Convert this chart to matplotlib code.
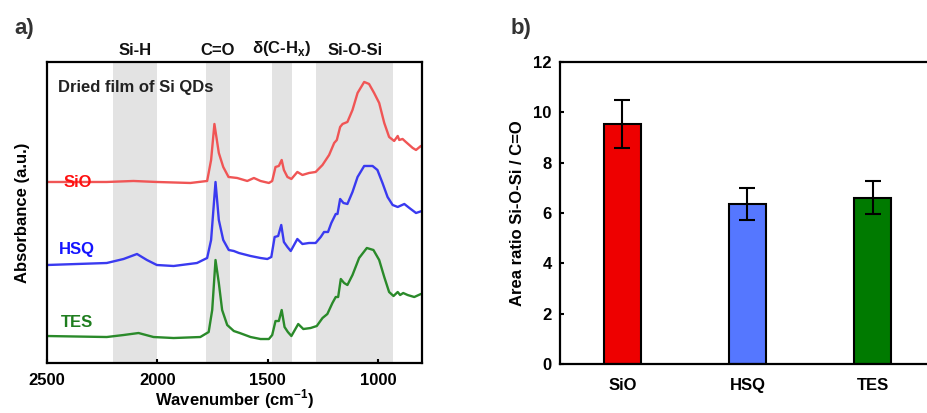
import matplotlib.pyplot as plt
import matplotlib.transforms as mtransforms

plt.rcParams['font.family'] = ['Liberation Sans', 'DejaVu Sans']
plt.rcParams['font.weight'] = 'bold'
plt.rcParams['mathtext.fontset'] = 'custom'
plt.rcParams['mathtext.bf'] = 'Liberation Sans:bold'
plt.rcParams['mathtext.rm'] = 'Liberation Sans:bold'

# ---- panel a) FTIR spectra (baseline-subtracted) ----
sio_wn = [2500, 2380, 2229, 2108, 2002, 1850, 1774, 1756, 1741, 1721, 1701, 1677,
          1638, 1592, 1562, 1532, 1494, 1479, 1464, 1449, 1436, 1426, 1410, 1392,
          1365, 1342, 1312, 1282, 1251, 1221, 1198, 1186, 1171, 1160, 1138, 1115,
          1092, 1062, 1040, 1017, 994, 971, 949, 926, 910, 903, 888, 873, 842, 827,
          805, 800]
sio_abs = [0.00, 0.00, 0.00, 0.01, 0.00, -0.01, 0.01, 0.22, 0.58, 0.29, 0.15, 0.05,
           0.04, 0.01, 0.04, 0.01, -0.01, 0.01, 0.15, 0.16, 0.22, 0.12, 0.05, 0.03,
           0.10, 0.07, 0.09, 0.10, 0.17, 0.27, 0.39, 0.42, 0.55, 0.58, 0.60, 0.72,
           0.89, 1.00, 0.98, 0.89, 0.79, 0.59, 0.45, 0.41, 0.46, 0.42, 0.43, 0.40,
           0.34, 0.32, 0.36, 0.36]

hsq_wn = [2500, 2229, 2153, 2092, 2047, 2002, 1926, 1820, 1774, 1756, 1736, 1721,
          1701, 1676, 1653, 1630, 1577, 1532, 1501, 1483, 1468, 1452, 1438, 1426,
          1410, 1395, 1365, 1342, 1312, 1282, 1259, 1244, 1226, 1211, 1191, 1183,
          1171, 1156, 1138, 1115, 1092, 1062, 1024, 1002, 979, 956, 933, 910, 880,
          857, 827, 800]
hsq_abs = [0.00, 0.02, 0.06, 0.11, 0.05, 0.00, -0.01, 0.02, 0.07, 0.25, 0.83, 0.45,
           0.25, 0.15, 0.14, 0.12, 0.09, 0.07, 0.06, 0.08, 0.28, 0.29, 0.40, 0.23,
           0.18, 0.14, 0.26, 0.21, 0.22, 0.22, 0.28, 0.33, 0.33, 0.42, 0.51, 0.51,
           0.66, 0.62, 0.61, 0.73, 0.88, 0.99, 0.99, 0.95, 0.82, 0.68, 0.60, 0.58,
           0.61, 0.57, 0.52, 0.54]

tes_wn = [2500, 2229, 2153, 2085, 2017, 1926, 1805, 1767, 1751, 1736, 1721, 1706,
          1683, 1653, 1626, 1577, 1532, 1494, 1479, 1464, 1449, 1436, 1423, 1408,
          1392, 1361, 1338, 1305, 1277, 1251, 1229, 1206, 1191, 1180, 1168, 1153,
          1138, 1115, 1085, 1050, 1020, 994, 971, 949, 929, 910, 899, 885, 865, 835,
          805, 800]
tes_abs = [0.01, 0.00, 0.02, 0.04, 0.00, -0.01, 0.00, 0.05, 0.27, 0.77, 0.54, 0.27,
           0.12, 0.06, 0.04, 0.00, -0.02, -0.02, 0.02, 0.16, 0.16, 0.27, 0.10, 0.05,
           0.01, 0.13, 0.08, 0.09, 0.11, 0.19, 0.23, 0.34, 0.40, 0.40, 0.58, 0.54,
           0.52, 0.62, 0.79, 0.89, 0.87, 0.77, 0.60, 0.45, 0.41, 0.45, 0.42, 0.44,
           0.42, 0.40, 0.43, 0.43]

spec_names = ['SiO', 'HSQ', 'TES']
spec_offsets = [1.81, 0.98, 0.26]
spec_colors = ['#F05555', '#3A3AF0', '#2A8A2A']
label_colors = ['#FF1010', '#1515FF', '#1E7D1E']

bands = [(2200, 2000), (1780, 1670), (1480, 1390), (1280, 930)]
band_labels = ['Si-H', 'C=O', 'δ(C-H$_\\mathbf{x}$)', 'Si-O-Si']

# ---- panel b) bar chart ----
samples = ['SiO', 'HSQ', 'TES']
ratio = [9.55, 6.35, 6.6]
ratio_err = [0.95, 0.63, 0.66]
bar_colors = ['#EE0000', '#5577FF', '#007A00']

fig = plt.figure(figsize=(9.27, 4.13), dpi=100)

ax1 = fig.add_axes([0.0507, 0.121, 0.4045, 0.729])
for (hi, lo) in bands:
    ax1.axvspan(lo, hi, color='#E3E3E3', lw=0, zorder=0)
spectra = [(sio_wn, sio_abs), (hsq_wn, hsq_abs), (tes_wn, tes_abs)]
for (wn, ab), off, c in zip(spectra, spec_offsets, spec_colors):
    ax1.plot(wn, [a + off for a in ab], color=c, lw=1.7, zorder=2)
ax1.set_xlim(2500, 800)
ax1.set_ylim(0, 3.01)
ax1.set_yticks([])
ax1.set_xticks([2500, 2000, 1500, 1000])
ax1.tick_params(axis='x', direction='in', length=3, width=1.5, labelsize=12, pad=7)
for s in ax1.spines.values():
    s.set_linewidth(1.6)
ax1.set_xlabel('Wavenumber (cm$^{\\mathbf{-1}}$)', fontsize=12, fontweight='bold', labelpad=0)
ax1.set_ylabel('Absorbance (a.u.)', fontsize=12, fontweight='bold', labelpad=12)

ax1.text(0.03, 0.915, 'Dried film of Si QDs', transform=ax1.transAxes, fontsize=12,
         fontweight='bold', color='#222222', va='center', ha='left')
label_y = [0.601, 0.378, 0.136]
for name, col, ly in zip(spec_names, label_colors, label_y):
    ax1.text(0.081, ly, name, transform=ax1.transAxes, fontsize=12,
             fontweight='bold', color=col, ha='center', va='center')

trans = mtransforms.blended_transform_factory(ax1.transData, ax1.transAxes)
for (hi, lo), lab in zip(bands, band_labels):
    ax1.text((hi + lo) / 2, 1.012, lab, transform=trans, fontsize=12,
             fontweight='bold', ha='center', va='bottom', color='#111111')

ax2 = fig.add_axes([0.604, 0.1186, 0.4047, 0.7314])
x = range(len(samples))
ax2.bar(x, ratio, width=0.3, color=bar_colors, edgecolor='black', linewidth=1.5,
        yerr=ratio_err, capsize=6, error_kw=dict(elinewidth=1.5, capthick=1.5, ecolor='black'))
ax2.set_xlim(-0.5, 2.5)
ax2.set_ylim(0, 12)
ax2.set_yticks([0, 2, 4, 6, 8, 10, 12])
ax2.set_xticks(list(x))
ax2.set_xticklabels(samples)
ax2.tick_params(axis='y', direction='in', length=3, width=1.5, labelsize=12, pad=6)
ax2.tick_params(axis='x', length=0, labelsize=12, pad=10)
for s in ax2.spines.values():
    s.set_linewidth(1.6)
ax2.set_ylabel('Area ratio Si-O-Si / C=O', fontsize=12, fontweight='bold', labelpad=6)

fig.text(0.016, 0.93, 'a)', fontsize=16, fontweight='bold', color='#333333', va='center')
fig.text(0.551, 0.93, 'b)', fontsize=16, fontweight='bold', color='#333333', va='center')

fig.savefig('out.png', dpi=100)
